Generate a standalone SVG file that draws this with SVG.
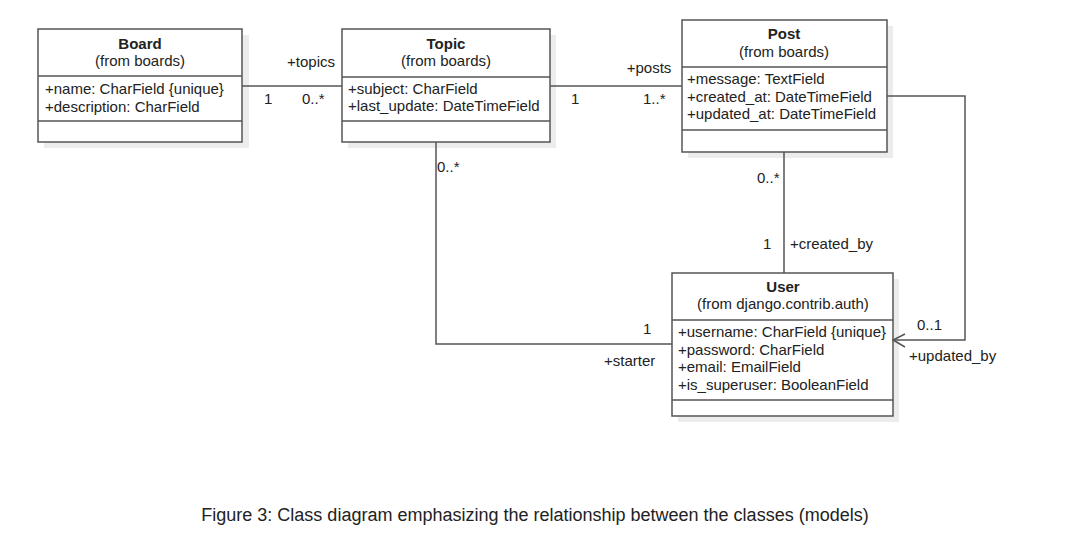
<svg xmlns="http://www.w3.org/2000/svg" width="1084" height="546" viewBox="0 0 1084 546">
<style>
text{font-family:"Liberation Sans",Arial,sans-serif;font-size:15px;fill:#222}
.t{font-weight:bold;text-anchor:middle}
.s{text-anchor:middle}
.box{fill:#fff;stroke:#555;stroke-width:1.5}
.sh{fill:#ececec}
.ln{stroke:#555;stroke-width:1.5;fill:none}
.cap{font-size:18px;text-anchor:middle}
</style>
<rect width="1084" height="546" fill="#fff"/>
<g id="Board">
<rect class="sh" x="44" y="35" width="205" height="113"/>
<rect class="box" x="38" y="29" width="204" height="113"/>
<line class="ln" x1="38" y1="76" x2="242" y2="76"/>
<line class="ln" x1="38" y1="121" x2="242" y2="121"/>
<text class="t" x="140" y="49">Board</text>
<text class="s" x="140" y="66">(from boards)</text>
<text x="45" y="94">+name: CharField {unique}</text>
<text x="45" y="112">+description: CharField</text>
</g>
<g id="Topic">
<rect class="sh" x="348" y="35" width="208" height="113"/>
<rect class="box" x="342" y="29" width="208" height="113"/>
<line class="ln" x1="342" y1="77" x2="550" y2="77"/>
<line class="ln" x1="342" y1="121" x2="550" y2="121"/>
<text class="t" x="446" y="49">Topic</text>
<text class="s" x="446" y="66">(from boards)</text>
<text x="348" y="94">+subject: CharField</text>
<text x="348" y="111">+last_update: DateTimeField</text>
</g>
<g id="Post">
<rect class="sh" x="688" y="26" width="205" height="132"/>
<rect class="box" x="682" y="20" width="205" height="132"/>
<line class="ln" x1="682" y1="67" x2="887" y2="67"/>
<line class="ln" x1="682" y1="130" x2="887" y2="130"/>
<text class="t" x="784" y="39">Post</text>
<text class="s" x="784" y="57">(from boards)</text>
<text x="687" y="84">+message: TextField</text>
<text x="687" y="102">+created_at: DateTimeField</text>
<text x="687" y="119">+updated_at: DateTimeField</text>
</g>
<g id="User">
<rect class="sh" x="678" y="279" width="221" height="143"/>
<rect class="box" x="672" y="273" width="221" height="143"/>
<line class="ln" x1="672" y1="320" x2="893" y2="320"/>
<line class="ln" x1="672" y1="400" x2="893" y2="400"/>
<text class="t" x="783" y="292">User</text>
<text class="s" x="783" y="309">(from django.contrib.auth)</text>
<text x="678" y="337">+username: CharField {unique}</text>
<text x="678" y="355">+password: CharField</text>
<text x="678" y="372">+email: EmailField</text>
<text x="678" y="390">+is_superuser: BooleanField</text>
</g>
<g id="connectors">
<line class="ln" x1="242" y1="86" x2="342" y2="86"/>
<line class="ln" x1="550" y1="86" x2="682" y2="86"/>
<line class="ln" x1="784" y1="152" x2="784" y2="273"/>
<polyline class="ln" points="436,142 436,344 672,344"/>
<polyline class="ln" points="887,96 965,96 965,340 893,340"/>
<polyline class="ln" points="905,334 893,340 905,347"/>
</g>
<g id="labels">
<text class="s" x="311" y="67">+topics</text>
<text x="264" y="104">1</text>
<text x="302" y="104">0..*</text>
<text class="s" x="649" y="73">+posts</text>
<text x="571" y="104">1</text>
<text x="643" y="104">1..*</text>
<text x="437" y="172">0..*</text>
<text x="757" y="183">0..*</text>
<text x="763" y="249">1</text>
<text x="790" y="249">+created_by</text>
<text x="643" y="334">1</text>
<text x="604" y="366">+starter</text>
<text x="917" y="330">0..1</text>
<text x="909" y="361">+updated_by</text>
</g>
<text class="cap" x="535" y="521">Figure 3: Class diagram emphasizing the relationship between the classes (models)</text>
</svg>
